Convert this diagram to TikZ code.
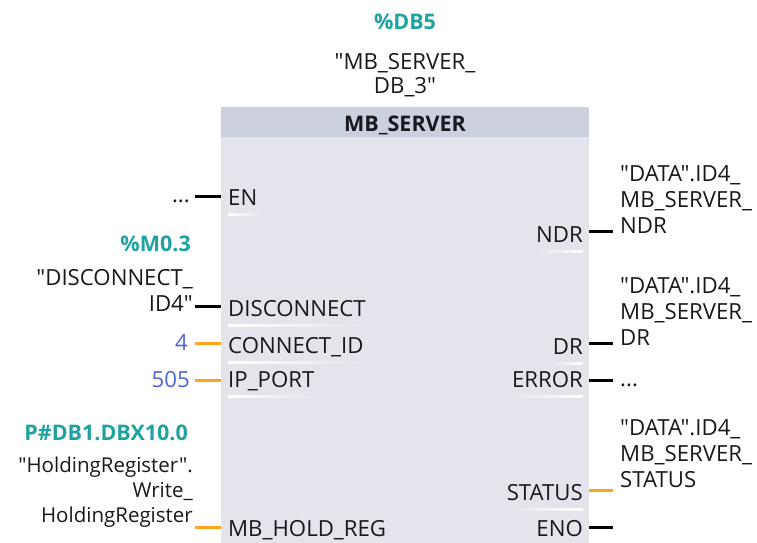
\documentclass[tikz,border=0pt]{standalone}
\usepackage{fontspec}
\setmainfont{Open Sans}[Ligatures=TeXOff]
\definecolor{bodycol}{RGB}{227,228,236}
\definecolor{headcol}{RGB}{204,207,220}
\definecolor{tealtxt}{RGB}{30,162,162}
\definecolor{bluetxt}{RGB}{80,102,215}
\definecolor{wireorange}{RGB}{255,162,30}
\definecolor{inktxt}{RGB}{24,24,30}
\tikzset{
  lbl/.style={inner sep=0pt, text=inktxt, font=\fontsize{22.2}{25}\selectfont},
  addr/.style={lbl, text=tealtxt, font=\bfseries\fontsize{21.5}{25}\selectfont},
  constval/.style={lbl, text=bluetxt},
  multi/.style={lbl, font=\fontsize{22.2}{26}\selectfont},
  boolwire/.style={draw=black, line width=3pt},
  datawire/.style={draw=wireorange, line width=3pt},
}
% underline beneath a pin label, fading away from the block edge
\newcommand{\pinrule}[3]{% node, colour left, colour right
  \shade[left color=#2, right color=#3]
    ([yshift=-8pt]#1.base west) rectangle ([yshift=-10pt,xshift=4pt]#1.base east);}
\newcommand{\pinruleR}[3]{%
  \shade[left color=#2, right color=#3]
    ([yshift=-8pt,xshift=-4pt]#1.base west) rectangle ([yshift=-10pt]#1.base east);}
\begin{document}
\begin{tikzpicture}[x=1pt,y=-1pt]
\useasboundingbox (0,0) rectangle (757,543);

% function block body and header
\fill[bodycol] (221,107) rectangle (589,543);
\fill[headcol] (221,107) rectangle (589,137);
\node[lbl, font=\bfseries\fontsize{21.5}{25}\selectfont] (title) at (405,125) {MB\_SERVER};

% instance data block
\node[addr, anchor=base] (idb) at (405,30) {\%DB5};
\node[lbl, anchor=north, align=center, font=\fontsize{22.2}{24}\selectfont] (idbname) at (405,53) {"MB\_SERVER\_\\DB\_3"};

% input pins
\node[lbl, anchor=base west] (pEN) at (228,205.5) {EN};
\node[lbl, anchor=base west] (pDIS) at (228,316.5) {DISCONNECT};
\node[lbl, anchor=base west] (pCID) at (228,353.5) {CONNECT\_ID};
\node[lbl, anchor=base west] (pIP) at (228,387.5) {IP\_PORT};
\node[lbl, anchor=base west] (pMB) at (228,536.5) {MB\_HOLD\_REG};

% output pins
\node[lbl, anchor=base east] (pNDR) at (583,242.5) {NDR};
\node[lbl, anchor=base east] (pDR) at (583,354.5) {DR};
\node[lbl, anchor=base east] (pERR) at (583,387.5) {ERROR};
\node[lbl, anchor=base east] (pST) at (583,500.5) {STATUS};
\node[lbl, anchor=base east] (pENO) at (583,536.5) {ENO};

% separators under the pin names
\pinrule{pEN}{white}{bodycol}
\pinrule{pDIS}{white}{bodycol}
\pinrule{pCID}{white}{bodycol}
\pinrule{pIP}{white}{bodycol}
\pinruleR{pNDR}{bodycol}{white}
\pinruleR{pDR}{bodycol}{white}
\pinruleR{pERR}{bodycol}{white}
\pinruleR{pST}{bodycol}{white}

% wire end points on the block edges
\coordinate (inEN) at (221,196);
\coordinate (inDIS) at (221,306);
\coordinate (inCID) at (221,343);
\coordinate (inIP) at (221,380);
\coordinate (inMB) at (221,527);
\coordinate (outNDR) at (589,231);
\coordinate (outDR) at (589,343);
\coordinate (outERR) at (589,380);
\coordinate (outST) at (589,490);
\coordinate (outENO) at (589,527);

% actual parameters on the input side
\node[lbl, anchor=base east] (aEN) at (190,202) {...};
\node[addr, anchor=base east] (aDISaddr) at (191,251.5) {\%M0.3};
\node[multi, anchor=north east, align=right] (aDIS) at (193,269.5) {"DISCONNECT\_\\ID4"};
\node[constval, anchor=base east] (aCID) at (188,350.5) {4};
\node[constval, anchor=base east] (aIP) at (190,387.5) {505};
\node[addr, anchor=base east] (aMBaddr) at (188,440.5) {P\#DB1.DBX10.0};
\node[lbl, anchor=north east, align=right, font=\fontsize{20.5}{25}\selectfont] (aMB) at (193,456.5) {"HoldingRegister".\\Write\_\\HoldingRegister};

% actual parameters on the output side
\node[multi, anchor=north west, align=left] (aNDR) at (620,165.5) {"DATA".ID4\_\\MB\_SERVER\_\\NDR};
\node[multi, anchor=north west, align=left] (aDR) at (620,277.5) {"DATA".ID4\_\\MB\_SERVER\_\\DR};
\node[lbl, anchor=base west] (aERR) at (620,386) {...};
\node[multi, anchor=north west, align=left] (aST) at (620,419.5) {"DATA".ID4\_\\MB\_SERVER\_\\STATUS};

% wires
\draw[boolwire] (inEN) -- ++(-26,0);
\draw[boolwire] (inDIS) -- ++(-26,0);
\draw[datawire] (inCID) -- ++(-26,0);
\draw[datawire] (inIP) -- ++(-26,0);
\draw[datawire] (inMB) -- ++(-26,0);
\draw[boolwire] (outNDR) -- ++(24,0);
\draw[boolwire] (outDR) -- ++(24,0);
\draw[boolwire] (outERR) -- ++(24,0);
\draw[datawire] (outST) -- ++(24,0);
\draw[boolwire] (outENO) -- ++(24,0);
\end{tikzpicture}
\end{document}
